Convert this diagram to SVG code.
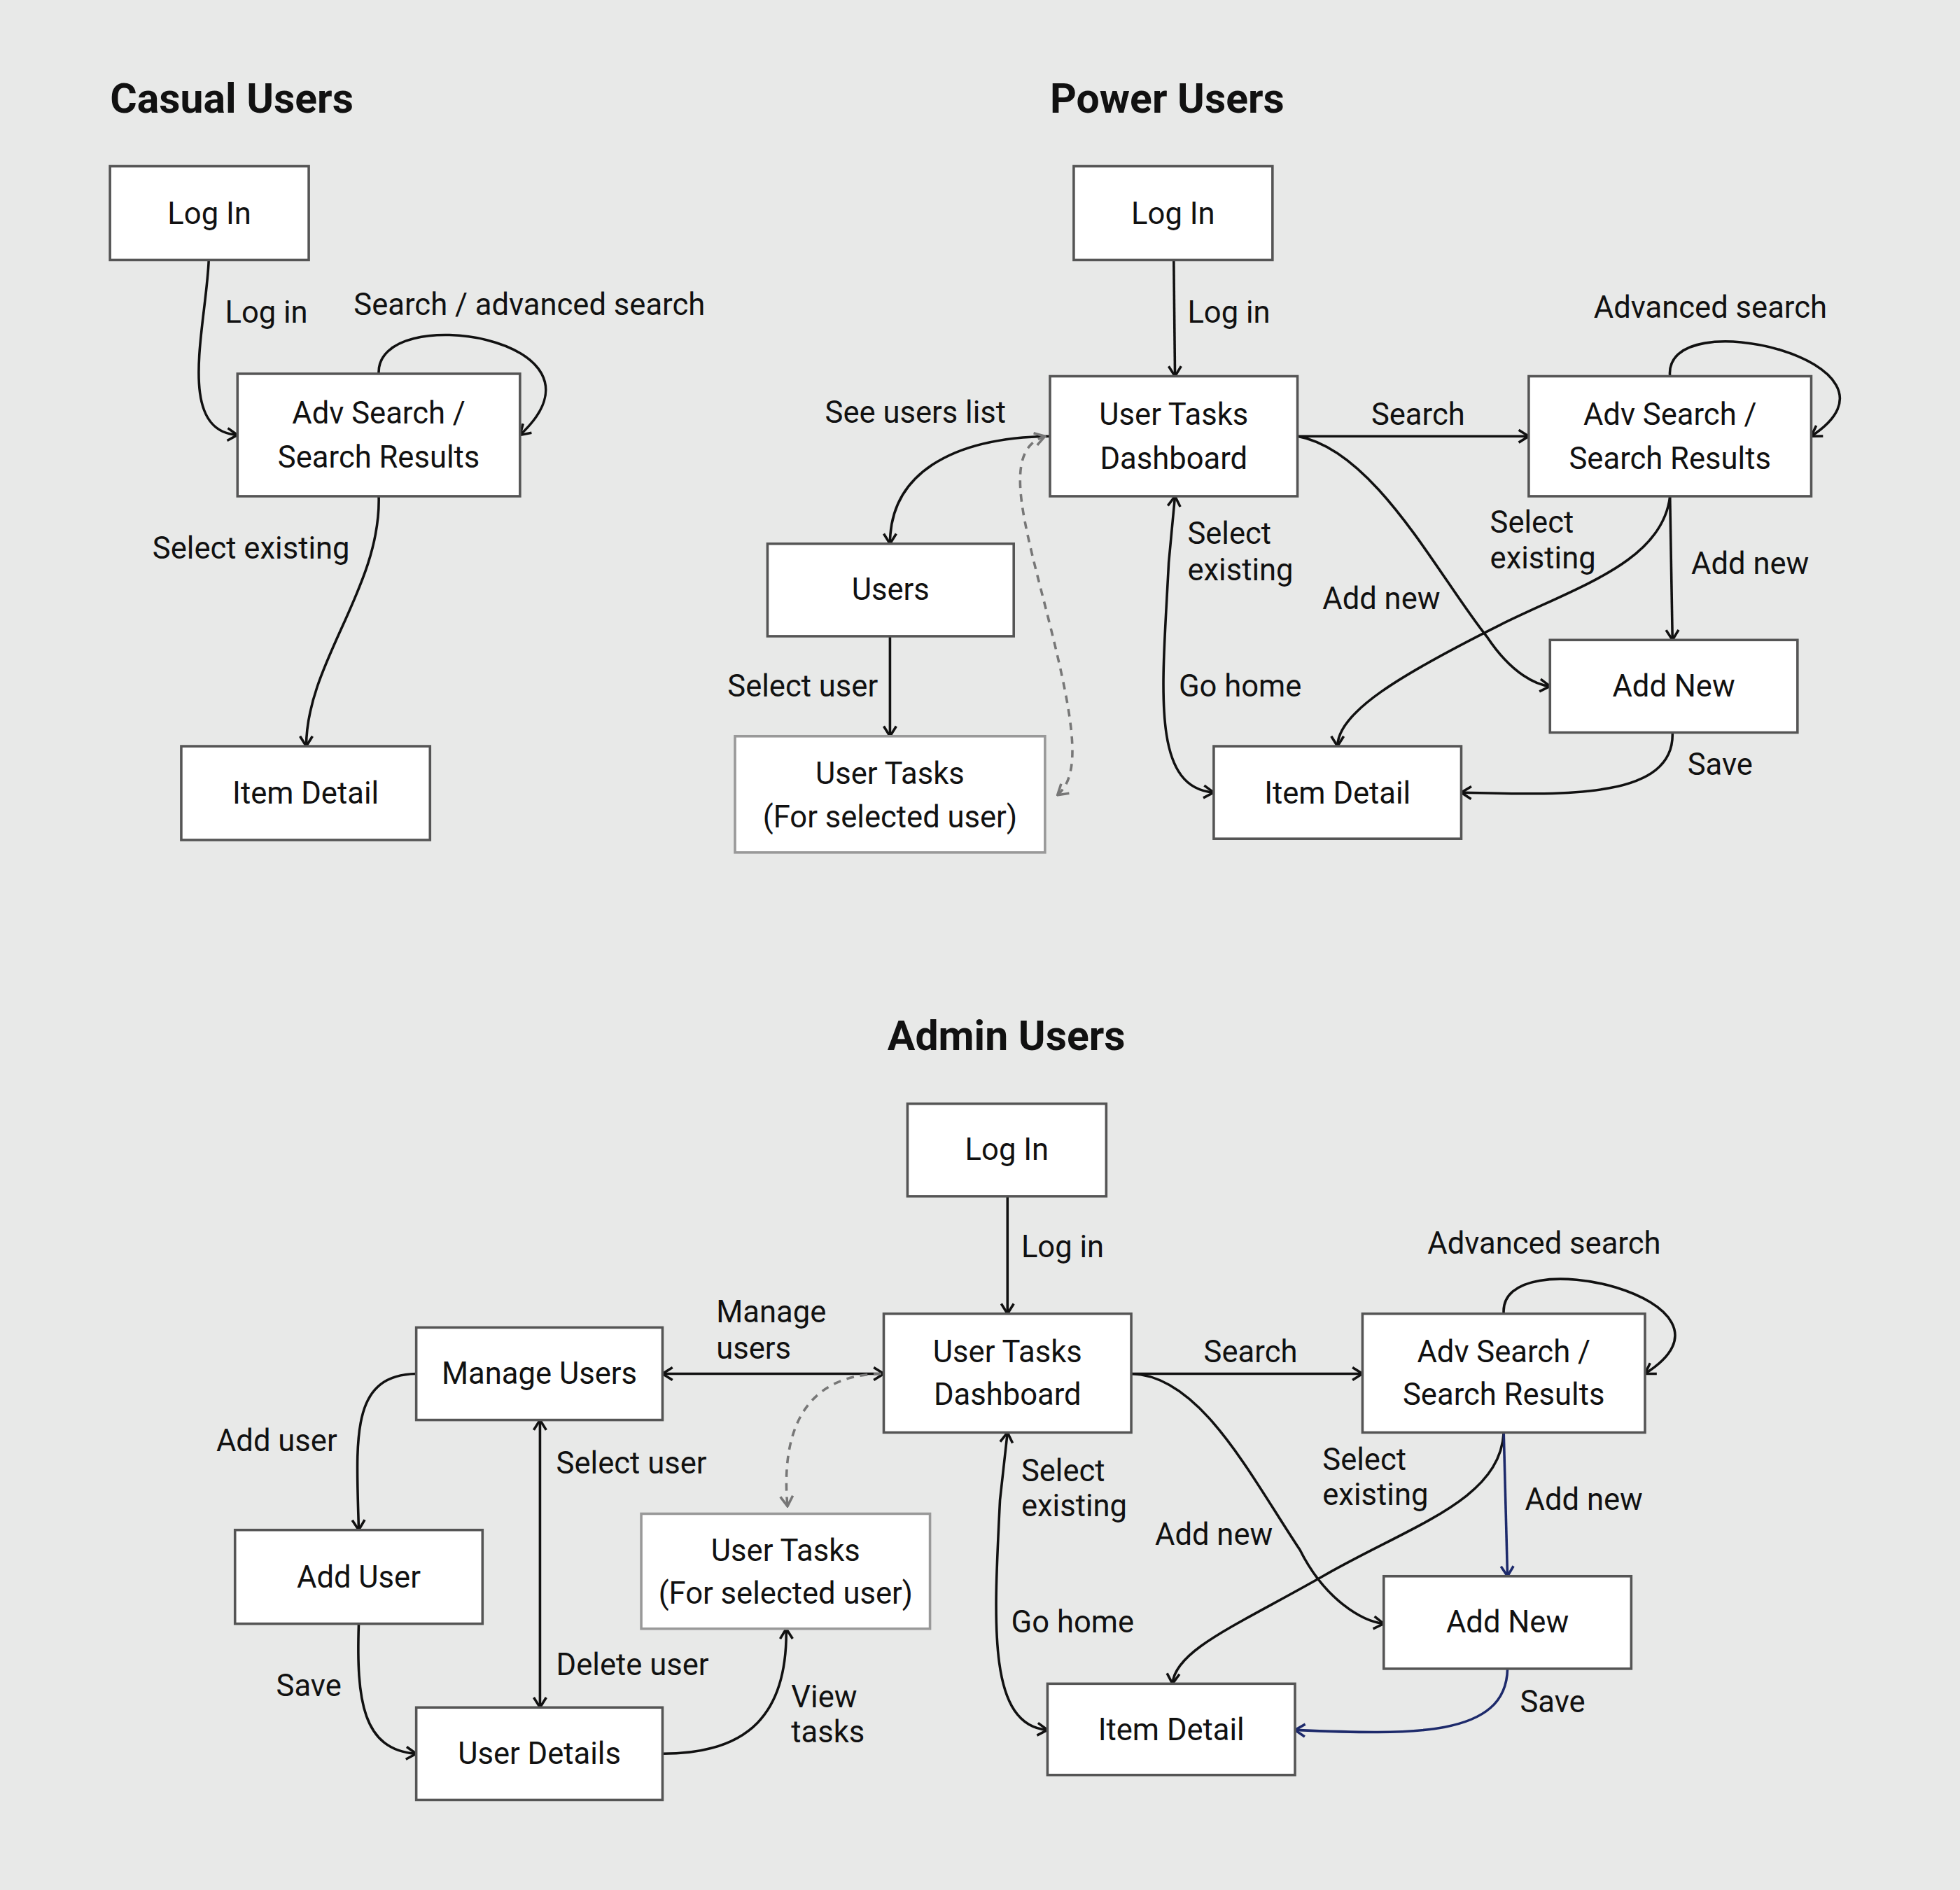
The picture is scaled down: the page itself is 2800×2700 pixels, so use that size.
<svg xmlns="http://www.w3.org/2000/svg" width="2800" height="2700" viewBox="0 0 2800 2700">
<style>
.bx{fill:#fff;stroke:#555;stroke-width:2}
.gb{fill:#fff;stroke:#999;stroke-width:2}
text{font-family:Roboto,"Liberation Sans",sans-serif;font-size:24.4px;fill:#111}
.t{font-size:33px;font-weight:bold}
.c{text-anchor:middle}
.e{fill:none;stroke:#111;stroke-width:2}
.bl{fill:none;stroke:#1d2a6b;stroke-width:2}
.d{fill:none;stroke:#777;stroke-width:2;stroke-dasharray:6 5}
</style>
<defs>
<marker id="a" markerUnits="userSpaceOnUse" viewBox="0 0 12 12" refX="11" refY="6" markerWidth="12" markerHeight="12" orient="auto-start-reverse"><path d="M3,1 L11,6 L3,11" fill="none" stroke="#111" stroke-width="2"/></marker>
<marker id="b" markerUnits="userSpaceOnUse" viewBox="0 0 12 12" refX="11" refY="6" markerWidth="12" markerHeight="12" orient="auto-start-reverse"><path d="M3,1 L11,6 L3,11" fill="none" stroke="#1d2a6b" stroke-width="2"/></marker>
<marker id="g" markerUnits="userSpaceOnUse" viewBox="0 0 12 12" refX="11" refY="6" markerWidth="12" markerHeight="12" orient="auto-start-reverse"><path d="M3,1 L11,6 L3,11" fill="none" stroke="#777" stroke-width="2"/></marker>
</defs>
<rect width="2800" height="2700" fill="#e8e9e8"/>
<g transform="scale(1.7857)">
<g id="titles">
<text class="t" x="88" y="90">Casual Users</text>
<text class="t" x="840" y="90">Power Users</text>
<text class="t" x="710" y="840">Admin Users</text>
</g>
<g id="connectors">
<path class="e" d="M167,208 C165,260 140,345 190,348" marker-end="url(#a)"/>
<path class="e" d="M303,299 C300,240 500,270 416,348" marker-end="url(#a)"/>
<path class="e" d="M303,397 C305,470 245,530 245,597" marker-end="url(#a)"/>

<path class="e" d="M939,208 L940,301" marker-end="url(#a)"/>
<path class="e" d="M1038,349 L1223,349" marker-end="url(#a)"/>
<path class="e" d="M1336,301 C1330,240 1540,290 1449,349" marker-end="url(#a)"/>
<path class="e" d="M840,349 C760,350 712,380 712,435" marker-end="url(#a)"/>
<path class="d" d="M836,349 C800,360 820,420 840,500 C860,580 865,620 846,636" marker-start="url(#g)" marker-end="url(#g)"/>
<path class="e" d="M712,509 L712,589" marker-end="url(#a)"/>
<path class="e" d="M1038,349 C1100,360 1150,460 1190,510 C1210,540 1230,548 1240,549" marker-end="url(#a)"/>
<path class="e" d="M1336,397 C1330,450 1260,470 1200,500 C1120,540 1070,570 1070,597" marker-end="url(#a)"/>
<path class="e" d="M1336,397 L1338,512" marker-end="url(#a)"/>
<path class="e" d="M1338,586 C1340,640 1250,636 1169,634" marker-end="url(#a)"/>
<path class="e" d="M971,634 C920,630 930,550 935,450 L940,397" marker-start="url(#a)" marker-end="url(#a)"/>

<path class="e" d="M806,957 L806,1051" marker-end="url(#a)"/>
<path class="e" d="M905,1099 L1090,1099" marker-end="url(#a)"/>
<path class="e" d="M1203,1051 C1198,990 1410,1040 1316,1099" marker-end="url(#a)"/>
<path class="e" d="M707,1099 L530,1099" marker-start="url(#a)" marker-end="url(#a)"/>
<path class="d" d="M705,1099 C640,1100 625,1150 630,1205" marker-end="url(#g)"/>
<path class="e" d="M333,1099 C280,1100 285,1150 287,1224" marker-end="url(#a)"/>
<path class="e" d="M287,1299 C285,1360 290,1400 333,1403" marker-end="url(#a)"/>
<path class="e" d="M432,1136 L432,1366" marker-start="url(#a)" marker-end="url(#a)"/>
<path class="e" d="M530,1403 C600,1403 630,1370 629,1303" marker-end="url(#a)"/>
<path class="e" d="M905,1099 C960,1100 1000,1180 1040,1240 C1060,1280 1090,1297 1107,1299" marker-end="url(#a)"/>
<path class="e" d="M1203,1146 C1200,1200 1130,1220 1060,1260 C990,1300 940,1320 938,1347" marker-end="url(#a)"/>
<path class="bl" d="M1203,1146 L1206,1261" marker-end="url(#b)"/>
<path class="bl" d="M1206,1335 C1205,1390 1130,1388 1036,1384" marker-end="url(#b)"/>
<path class="e" d="M838,1384 C790,1380 795,1300 800,1200 L806,1146" marker-start="url(#a)" marker-end="url(#a)"/>
</g>
<g id="labels">
<text x="180" y="258">Log in</text>
<text x="283" y="252">Search / advanced search</text>
<text x="122" y="447">Select existing</text>
<text x="950" y="258">Log in</text>
<text x="1097" y="340">Search</text>
<text x="1275" y="254">Advanced search</text>
<text x="660" y="338">See users list</text>
<text x="582" y="557">Select user</text>
<text x="1058" y="487">Add new</text>
<text x="1192" y="426">Select</text><text x="1192" y="455">existing</text>
<text x="1353" y="459">Add new</text>
<text x="1350" y="620">Save</text>
<text x="950" y="435">Select</text><text x="950" y="464">existing</text>
<text x="943" y="557">Go home</text>
<text x="817" y="1006">Log in</text>
<text x="963" y="1090">Search</text>
<text x="1142" y="1003">Advanced search</text>
<text x="573" y="1058">Manage</text><text x="573" y="1087">users</text>
<text x="173" y="1161">Add user</text>
<text x="221" y="1357">Save</text>
<text x="445" y="1179">Select user</text>
<text x="445" y="1340">Delete user</text>
<text x="633" y="1366">View</text><text x="633" y="1394">tasks</text>
<text x="924" y="1236">Add new</text>
<text x="1058" y="1176">Select</text><text x="1058" y="1204">existing</text>
<text x="1220" y="1208">Add new</text>
<text x="1216" y="1370">Save</text>
<text x="817" y="1185">Select</text><text x="817" y="1213">existing</text>
<text x="809" y="1306">Go home</text>
</g>
<g id="c-login"><rect class="bx" x="88" y="133" width="159" height="75"/><text class="c" x="167.5" y="179">Log In</text></g>
<g id="c-adv"><rect class="bx" x="190" y="299" width="226" height="98"/><text class="c" x="303" y="339">Adv Search /</text><text class="c" x="303" y="374">Search Results</text></g>
<g id="c-item"><rect class="bx" x="145" y="597" width="199" height="75"/><text class="c" x="244.5" y="643">Item Detail</text></g>

<g id="p-login"><rect class="bx" x="859" y="133" width="159" height="75"/><text class="c" x="938.5" y="179">Log In</text></g>
<g id="p-utd"><rect class="bx" x="840" y="301" width="198" height="96"/><text class="c" x="939" y="340">User Tasks</text><text class="c" x="939" y="375">Dashboard</text></g>
<g id="p-adv"><rect class="bx" x="1223" y="301" width="226" height="96"/><text class="c" x="1336" y="340">Adv Search /</text><text class="c" x="1336" y="375">Search Results</text></g>
<g id="p-users"><rect class="bx" x="614" y="435" width="197" height="74"/><text class="c" x="712.5" y="480">Users</text></g>
<g id="p-ut"><rect class="gb" x="588" y="589" width="248" height="93"/><text class="c" x="712" y="627">User Tasks</text><text class="c" x="712" y="662">(For selected user)</text></g>
<g id="p-addnew"><rect class="bx" x="1240" y="512" width="198" height="74"/><text class="c" x="1339" y="557">Add New</text></g>
<g id="p-item"><rect class="bx" x="971" y="597" width="198" height="74"/><text class="c" x="1070" y="643">Item Detail</text></g>

<g id="a-login"><rect class="bx" x="726" y="883" width="159" height="74"/><text class="c" x="805.5" y="928">Log In</text></g>
<g id="a-utd"><rect class="bx" x="707" y="1051" width="198" height="95"/><text class="c" x="806" y="1090">User Tasks</text><text class="c" x="806" y="1124">Dashboard</text></g>
<g id="a-adv"><rect class="bx" x="1090" y="1051" width="226" height="95"/><text class="c" x="1203" y="1090">Adv Search /</text><text class="c" x="1203" y="1124">Search Results</text></g>
<g id="a-manage"><rect class="bx" x="333" y="1062" width="197" height="74"/><text class="c" x="431.5" y="1107">Manage Users</text></g>
<g id="a-adduser"><rect class="bx" x="188" y="1224" width="198" height="75"/><text class="c" x="287" y="1270">Add User</text></g>
<g id="a-details"><rect class="bx" x="333" y="1366" width="197" height="74"/><text class="c" x="431.5" y="1411">User Details</text></g>
<g id="a-ut"><rect class="gb" x="513" y="1211" width="231" height="92"/><text class="c" x="628.5" y="1249">User Tasks</text><text class="c" x="628.5" y="1283">(For selected user)</text></g>
<g id="a-addnew"><rect class="bx" x="1107" y="1261" width="198" height="74"/><text class="c" x="1206" y="1306">Add New</text></g>
<g id="a-item"><rect class="bx" x="838" y="1347" width="198" height="73"/><text class="c" x="937" y="1392">Item Detail</text></g>
</g>
</svg>
